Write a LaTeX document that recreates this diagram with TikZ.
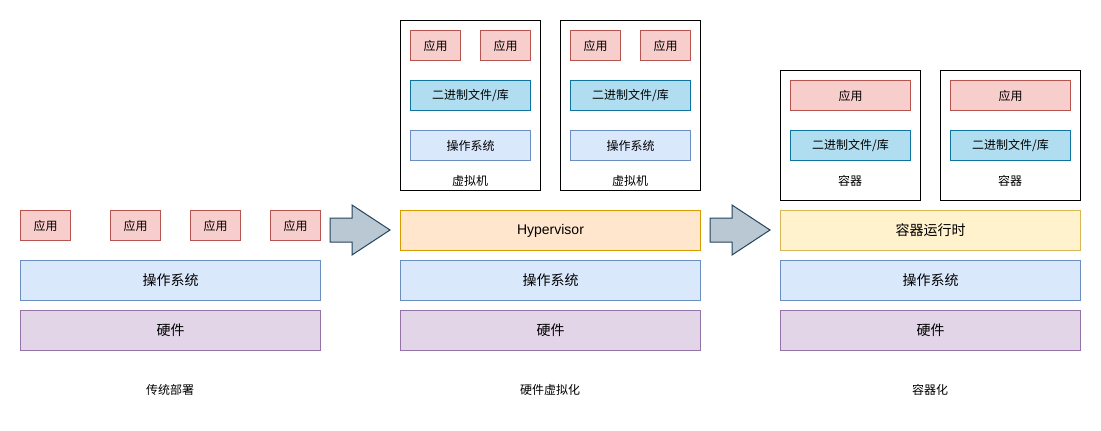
\documentclass[tikz,border=0pt]{standalone}
\usepackage{fontspec}
\setmainfont{Noto Sans CJK SC}
\definecolor{appF}{HTML}{F8CECC}\definecolor{appD}{HTML}{B85450}
\definecolor{binF}{HTML}{B1DDF0}\definecolor{binD}{HTML}{10739E}
\definecolor{osF}{HTML}{DAE8FC}\definecolor{osD}{HTML}{6C8EBF}
\definecolor{hwF}{HTML}{E1D5E7}\definecolor{hwD}{HTML}{9673A6}
\definecolor{hvF}{HTML}{FFE6CC}\definecolor{hvD}{HTML}{D79B00}
\definecolor{rtF}{HTML}{FFF2CC}\definecolor{rtD}{HTML}{D6B656}
\definecolor{arF}{HTML}{BAC8D3}\definecolor{arD}{HTML}{23445D}
\tikzset{
  box/.style={draw, line width=1pt, inner sep=0pt, anchor=north west, font=\fontsize{12}{14}\selectfont},
  app/.style={box, fill=appF, draw=appD},
  bin/.style={box, fill=binF, draw=binD},
  os/.style={box, fill=osF, draw=osD},
  hw/.style={box, fill=hwF, draw=hwD, font=\fontsize{14}{16}\selectfont},
  hv/.style={box, fill=hvF, draw=hvD, font=\fontsize{14}{16}\selectfont},
  rt/.style={box, fill=rtF, draw=rtD, font=\fontsize{14}{16}\selectfont},
  bigos/.style={os, font=\fontsize{14}{16}\selectfont},
  frame/.style={draw=black, line width=1pt, fill=white, inner sep=0pt, anchor=north west},
  lbl/.style={font=\fontsize{12}{14}\selectfont, inner sep=0pt},
  bigarrow/.style={fill=arF, draw=arD, line width=1pt, line join=miter},
}
\begin{document}
\begin{tikzpicture}[x=1pt,y=-1pt]
\useasboundingbox (0,0) rectangle (1101,431);
% ---- traditional
\node[app, minimum width=50pt, minimum height=30pt] (a1) at (20,210) {应用};
\node[app, minimum width=50pt, minimum height=30pt] (a2) at (110,210) {应用};
\node[app, minimum width=50pt, minimum height=30pt] (a3) at (190,210) {应用};
\node[app, minimum width=50pt, minimum height=30pt] (a4) at (270,210) {应用};
\node[bigos, minimum width=300pt, minimum height=40pt] (os1) at (20,260) {操作系统};
\node[hw, minimum width=300pt, minimum height=40pt] (hw1) at (20,310) {硬件};
\node[lbl] (t1) at (170,390) {传统部署};
% arrow 1
\draw[bigarrow] (330,218) -- (352,218) -- (352,205) -- (390,230) -- (352,255) -- (352,242) -- (330,242) -- cycle;
% ---- hardware virtualization
\node[frame, minimum width=140pt, minimum height=170pt] (vm1) at (400,20) {};
\node[frame, minimum width=140pt, minimum height=170pt] (vm2) at (560,20) {};
\node[app, minimum width=50pt, minimum height=30pt] (v1a1) at (410,30) {应用};
\node[app, minimum width=50pt, minimum height=30pt] (v1a2) at (480,30) {应用};
\node[bin, minimum width=120pt, minimum height=30pt] (v1b) at (410,80) {二进制文件/库};
\node[os, minimum width=120pt, minimum height=30pt] (v1o) at (410,130) {操作系统};
\node[lbl] (v1l) at (470,181) {虚拟机};
\node[app, minimum width=50pt, minimum height=30pt] (v2a1) at (570,30) {应用};
\node[app, minimum width=50pt, minimum height=30pt] (v2a2) at (640,30) {应用};
\node[bin, minimum width=120pt, minimum height=30pt] (v2b) at (570,80) {二进制文件/库};
\node[os, minimum width=120pt, minimum height=30pt] (v2o) at (570,130) {操作系统};
\node[lbl] (v2l) at (630,181) {虚拟机};
\node[hv, minimum width=300pt, minimum height=40pt, font={\fontspec{Liberation Sans}\fontsize{14}{16}\selectfont}] (hv) at (400,210) {Hypervisor};
\node[bigos, minimum width=300pt, minimum height=40pt] (os2) at (400,260) {操作系统};
\node[hw, minimum width=300pt, minimum height=40pt] (hw2) at (400,310) {硬件};
\node[lbl] (t2) at (550,390) {硬件虚拟化};
% arrow 2
\draw[bigarrow] (710,218) -- (732,218) -- (732,205) -- (770,230) -- (732,255) -- (732,242) -- (710,242) -- cycle;
% ---- containerization
\node[frame, minimum width=140pt, minimum height=130pt] (c1) at (780,70) {};
\node[frame, minimum width=140pt, minimum height=130pt] (c2) at (940,70) {};
\node[app, minimum width=120pt, minimum height=30pt] (c1a) at (790,80) {应用};
\node[bin, minimum width=120pt, minimum height=30pt] (c1b) at (790,130) {二进制文件/库};
\node[lbl] (c1l) at (850,181) {容器};
\node[app, minimum width=120pt, minimum height=30pt] (c2a) at (950,80) {应用};
\node[bin, minimum width=120pt, minimum height=30pt] (c2b) at (950,130) {二进制文件/库};
\node[lbl] (c2l) at (1010,181) {容器};
\node[rt, minimum width=300pt, minimum height=40pt] (rt) at (780,210) {容器运行时};
\node[bigos, minimum width=300pt, minimum height=40pt] (os3) at (780,260) {操作系统};
\node[hw, minimum width=300pt, minimum height=40pt] (hw3) at (780,310) {硬件};
\node[lbl] (t3) at (930,390) {容器化};
\end{tikzpicture}
\end{document}
